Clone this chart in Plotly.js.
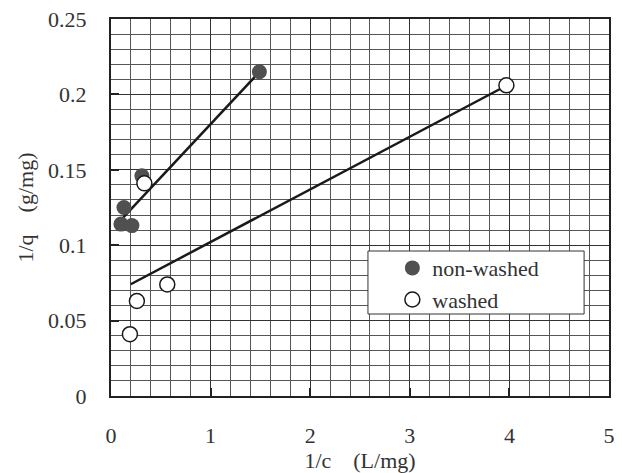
<!DOCTYPE html>
<html>
<head>
<meta charset="utf-8">
<script src="https://cdn.plot.ly/plotly-3.0.1.min.js"></script>
<style>html,body{margin:0;padding:0;background:#fff;}#chart{width:622px;height:473px;}</style>
</head>
<body>
<div id="chart"></div>
<script>
// Data
var nonWashedX = [0.10, 0.13, 0.21, 0.31, 1.49];
var nonWashedY = [0.114, 0.125, 0.113, 0.146, 0.215];
var washedX = [0.19, 0.26, 0.335, 0.565, 3.97];
var washedY = [0.041, 0.063, 0.141, 0.074, 0.206];
// fitted line end points
var nonWashedFitX = [0.124, 1.47];
var nonWashedFitY = [0.1185, 0.2135];
var washedFitX = [0.198, 3.93];
var washedFitY = [0.0741, 0.2044];
var seriesNames = ['non-washed', 'washed'];
var xTitle = '1/c\u3000(L/mg)';
var yTitle = '1/q\u3000(g/mg)';

var FONT = '"Liberation Serif", "Times New Roman", serif';
var FS = 22;

var traces = [
  {x: nonWashedFitX, y: nonWashedFitY, mode: 'lines', line: {color: '#1a1a1a', width: 2.5}, showlegend: false, hoverinfo: 'skip'},
  {x: washedFitX, y: washedFitY, mode: 'lines', line: {color: '#1a1a1a', width: 2.5}, showlegend: false, hoverinfo: 'skip'},
  {x: nonWashedX, y: nonWashedY, mode: 'markers', name: seriesNames[0],
   marker: {symbol: 'circle', size: 15, color: '#505050', line: {width: 0}}},
  {x: washedX, y: washedY, mode: 'markers', name: seriesNames[1],
   marker: {symbol: 'circle', size: 15, color: '#ffffff', line: {width: 1.5, color: '#1a1a1a'}}}
];

var layout = {
  width: 622, height: 473,
  margin: {l: 111, r: 13, t: 19, b: 77},
  paper_bgcolor: '#ffffff', plot_bgcolor: '#ffffff',
  font: {family: FONT, size: FS, color: '#333333'},
  showlegend: true,
  legend: {x: 0.565, y: 0.395, xanchor: 'left', yanchor: 'top', bgcolor: 'rgba(0,0,0,0)', borderwidth: 0,
           font: {family: FONT, size: FS, color: '#333333'}, tracegroupgap: 0},
  shapes: [{type: 'rect', xref: 'paper', yref: 'paper', x0: 0.516, x1: 0.950, y0: 0.2175, y1: 0.3846,
            line: {color: '#333333', width: 1}, fillcolor: '#ffffff', layer: 'above'}],
  xaxis: {
    range: [0, 5], dtick: 1, tick0: 0,
    showgrid: true, gridcolor: '#333333', gridwidth: 1,
    minor: {dtick: 0.2, showgrid: true, gridcolor: '#555555', gridwidth: 1, ticks: ''},
    ticks: 'inside', ticklen: 8, tickwidth: 2, tickcolor: '#222222',
    showline: true, linecolor: '#222222', linewidth: 2, mirror: true,
    zeroline: false, ticklabelstandoff: 19,
    tickfont: {family: FONT, size: FS, color: '#333333'},
    title: {text: xTitle, font: {family: FONT, size: FS, color: '#333333'}, standoff: 6}
  },
  yaxis: {
    range: [0, 0.25], dtick: 0.05, tick0: 0,
    showgrid: true, gridcolor: '#333333', gridwidth: 1,
    minor: {dtick: 0.01, showgrid: true, gridcolor: '#555555', gridwidth: 1, ticks: ''},
    ticks: 'inside', ticklen: 8, tickwidth: 2, tickcolor: '#222222',
    showline: true, linecolor: '#222222', linewidth: 2, mirror: true,
    zeroline: false, ticklabelstandoff: 18,
    tickfont: {family: FONT, size: FS, color: '#333333'},
    title: {text: yTitle, font: {family: FONT, size: FS, color: '#333333'}, standoff: 8}
  }
};

Plotly.newPlot('chart', traces, layout, {displayModeBar: false, staticPlot: true});
</script>
</body>
</html>
